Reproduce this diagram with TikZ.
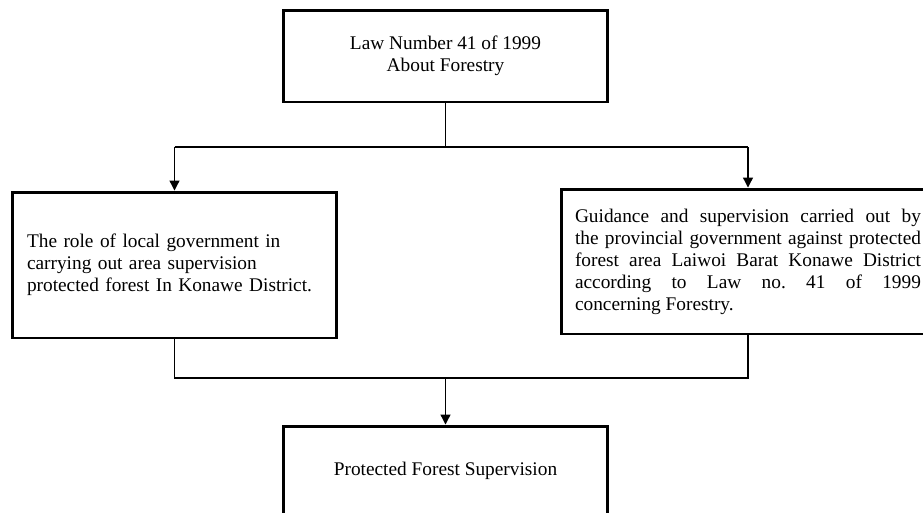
\documentclass[tikz,border=0pt]{standalone}
\usepackage{fontspec}
\setmainfont{Liberation Serif}
\usetikzlibrary{arrows.meta,positioning}

\begin{document}
\begin{tikzpicture}[
        x=0.02cm, y=0.02cm,
        box/.style={rectangle, draw=black, line width=1.7pt, minimum width=6.5cm, align=center, font=\fontsize{11}{12.5}\selectfont\frenchspacing},
        link/.style={line width=0.7pt},
        flow/.style={link, -{Triangle[width=0.2cm, length=0.2cm]}}
    ]
    \useasboundingbox (0,0) rectangle (923,-512);

    % Boxes
    \node[box, minimum height=1.84cm] (law) at (445.5,-56) {Law Number 41 of 1999\\About Forestry};
    \node[box, minimum height=2.92cm, text width=5.9cm, inner xsep=0.3cm, align=left] (role) at (174.5,-265)
        {The role of local government in\\carrying out area supervision\\protected forest In Konawe District.};
    \node[box, minimum height=2.9cm, text width=6.92cm, inner xsep=0.28cm, align=justify] (guide) at (748,-261.5)
        {Guidance and supervision carried out by\linebreak the provincial government against protected\linebreak forest area Laiwoi Barat Konawe District\linebreak according to Law no. 41 of 1999\linebreak concerning Forestry.};
    \node[box, minimum height=1.8cm] (result) at (445.5,-471) {Protected Forest Supervision};

    % Connectors
    \coordinate (upbar) at (0,-147);
    \coordinate (lowbar) at (0,-378);
    \draw[link] (law.south) -- (law.south |- upbar);
    \draw[link] (role.north |- upbar) -- (guide.north |- upbar);
    \draw[flow] (role.north |- upbar) -- (role.north);
    \draw[flow] (guide.north |- upbar) -- (guide.north);
    \draw[link] (role.south) -- (role.south |- lowbar) -- (guide.south |- lowbar) -- (guide.south);
    \draw[flow] (result.north |- lowbar) -- (result.north);

\end{tikzpicture}
\end{document}
